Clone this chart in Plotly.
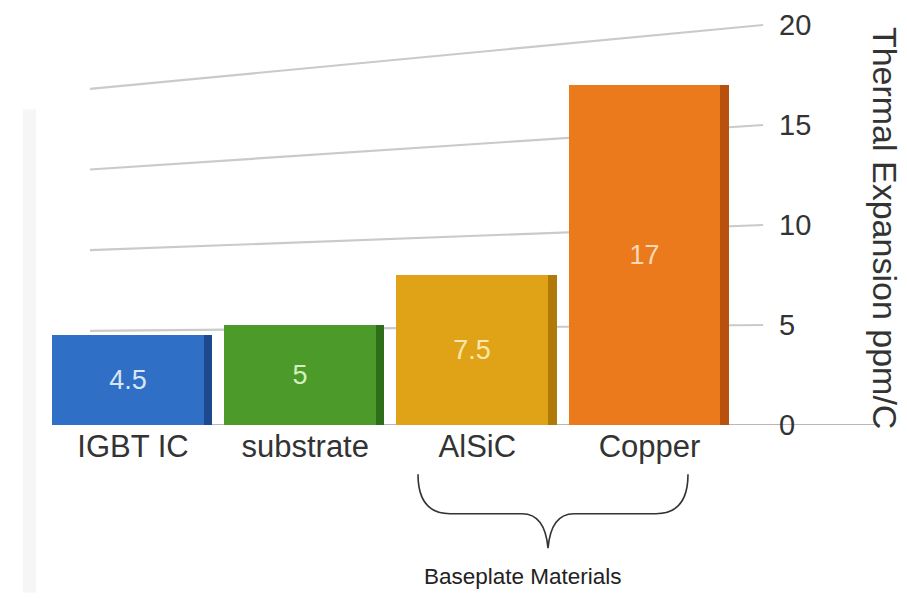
import plotly.graph_objects as go

# Thermal expansion of power-module materials (ppm/C)
categories = ["IGBT IC", "substrate", "AlSiC", "Copper"]
expansion = [4.5, 5, 7.5, 17]
face_colors = ["#2f6fc6", "#4c9a2a", "#e0a216", "#ea7a1c"]
side_colors = ["#1d4a8e", "#2f6e18", "#b07a08", "#b8500e"]
label_colors = ["#d8e6f7", "#d2f0bd", "#f9e8ae", "#fbd8b8"]
y_ticks = [0, 5, 10, 15, 20]

W, H = 907, 599
ML, MR, MT, MB = 47, 137, 9, 174
X_RANGE = [-0.5, 3.7]
Y_RANGE = [0, 20.5]


def pap_x(px):
    return (px - ML) / (W - ML - MR)


def pap_y(py):
    return (H - MB - py) / (H - MT - MB)


fig = go.Figure()

# darker right-hand faces give the bars some depth
fig.add_trace(go.Bar(
    x=categories, y=expansion, width=0.05, offset=0.41,
    marker=dict(color=side_colors, line=dict(width=0)),
    hoverinfo="skip", showlegend=False,
))
fig.add_trace(go.Bar(
    x=categories, y=expansion, width=0.88, offset=-0.47,
    marker=dict(color=face_colors, line=dict(width=0)),
    text=expansion, texttemplate="%{y}",
    textposition="inside", insidetextanchor="middle", textangle=0,
    constraintext="none",
    textfont=dict(family="Liberation Sans, Arial, sans-serif", size=27, color=label_colors),
    showlegend=False,
))

shapes = []
# receding gridlines: each line rises from its left end to the tick on the right
for v in y_ticks[1:]:
    shapes.append(dict(
        type="line", xref="x", yref="y", layer="below",
        x0=-0.25, y0=0.807 * v + 0.67, x1=3.66, y1=v,
        line=dict(color="#cacaca", width=2.2),
    ))
# floor line
shapes.append(dict(
    type="line", xref="paper", yref="y", layer="below",
    x0=pap_x(60), x1=pap_x(880), y0=0, y1=0,
    line=dict(color="#b8b8b8", width=2),
))
# faint strip on the left edge
shapes.append(dict(
    type="rect", xref="paper", yref="paper", layer="below",
    x0=pap_x(23), x1=pap_x(36), y0=pap_y(595), y1=pap_y(105),
    fillcolor="#f6f6f6", line=dict(width=0),
))
# brace grouping the baseplate materials
pts = [
    ("M", 418, 475), ("Q", 418, 515, 450, 515), ("L", 522, 515),
    ("Q", 545, 515, 548, 550), ("Q", 551, 515, 574, 515), ("L", 656, 515),
    ("Q", 688, 515, 688, 475),
]
path = ""
for p in pts:
    cmd, coords = p[0], p[1:]
    xy = []
    for i in range(0, len(coords), 2):
        xy.append(f"{pap_x(coords[i]):.5f},{pap_y(coords[i + 1]):.5f}")
    path += cmd + " " + " ".join(xy) + " "
shapes.append(dict(
    type="path", xref="paper", yref="paper", path=path.strip(),
    line=dict(color="#333333", width=1.6),
))

fig.update_layout(
    width=W, height=H,
    margin=dict(l=ML, r=MR, t=MT, b=MB),
    paper_bgcolor="white", plot_bgcolor="white",
    barmode="overlay", bargap=0,
    shapes=shapes,
    xaxis=dict(
        type="category", range=X_RANGE, showgrid=False, showline=False,
        zeroline=False, ticks="",
        tickfont=dict(family="Liberation Sans, Arial, sans-serif", size=31, color="#333333"),
    ),
    yaxis=dict(
        side="right", range=Y_RANGE, tickvals=y_ticks, showgrid=False,
        zeroline=False, showline=False, ticks="", ticklabelstandoff=8,
        tickfont=dict(family="Liberation Sans, Arial, sans-serif", size=29, color="#333333"),
    ),
    annotations=[
        dict(
            text="Thermal Expansion ppm/C", textangle=90,
            xref="paper", yref="paper", x=pap_x(885), y=pap_y(225),
            showarrow=False, xanchor="center", yanchor="middle",
            font=dict(family="Liberation Sans, Arial, sans-serif", size=34, color="#333333"),
        ),
        dict(
            text="Baseplate Materials",
            xref="paper", yref="paper", x=pap_x(523), y=pap_y(579),
            showarrow=False, xanchor="center", yanchor="middle",
            font=dict(family="Liberation Sans, Arial, sans-serif", size=22.5, color="#222222"),
        ),
    ],
)

fig.write_html("out.html")
